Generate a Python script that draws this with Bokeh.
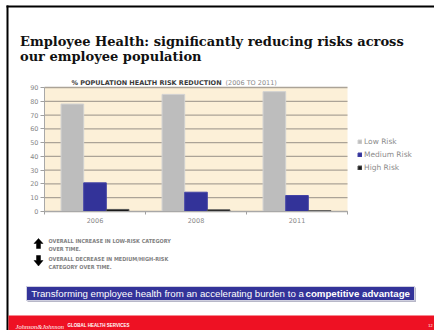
from bokeh.plotting import figure
from bokeh.models import (Range1d, FixedTicker, Label, Legend, LegendItem, ColumnDataSource)
from bokeh.transform import dodge
from bokeh.embed import file_html
from bokeh.resources import INLINE

# ---- data ----
years = ["2006", "2008", "2011"]
low_risk = [78, 85, 87]
medium_risk = [20.8, 14, 11.6]
high_risk = [1.5, 1.2, 0.6]
series_names = ["Low Risk", "Medium Risk", "High Risk"]
y_ticks = [0, 10, 20, 30, 40, 50, 60, 70, 80, 90]

title_lines = ["Employee Health: significantly reducing risks across",
               "our employee population"]
chart_title_bold = "% POPULATION HEALTH RISK REDUCTION"
chart_title_rest = "(2006 TO 2011)"
notes = ["OVERALL INCREASE IN LOW-RISK CATEGORY", "OVER TIME.",
         "OVERALL DECREASE IN MEDIUM/HIGH-RISK", "CATEGORY OVER TIME."]
banner_normal = "Transforming employee health from an accelerating burden  to a"
banner_bold = "competitive advantage"
footer_logo = "Johnson&Johnson"
footer_text = "GLOBAL HEALTH SERVICES"
page_no = "12"

NARROW = "'Liberation Sans Narrow', 'DejaVu Sans Condensed', sans-serif"

# ---- page geometry (pixels) ----
W, H = 434, 330
PX0, PX1, PY0, PY1 = 44, 347, 87, 211      # plot area on the page
XU = (PX1 - PX0) / len(years)
YU = (PY1 - PY0) / float(y_ticks[-1])


def dx(px):
    return (px - PX0) / XU


def dy(py):
    return (PY1 - py) / YU


p = figure(width=W, height=H, x_range=Range1d(dx(0), dx(W)), y_range=Range1d(dy(H), dy(0)),
           output_backend="svg", toolbar_location=None, min_border=0)
p.background_fill_color = "white"
p.border_fill_color = "white"
p.outline_line_color = None
p.xgrid.visible = False
p.ygrid.visible = False

# plot area background + gridlines
p.quad(left=[0], right=[len(years)], bottom=[0], top=[y_ticks[-1]],
       fill_color="#FCF0D8", line_color=None)
p.segment(x0=[0] * len(y_ticks), x1=[len(years)] * len(y_ticks), y0=y_ticks, y1=y_ticks,
          line_color="#ABA397", line_width=1.3)

# bars
src = ColumnDataSource(dict(pos=[i + 0.5 for i in range(len(years))],
                            low=low_risk, med=medium_risk, high=high_risk))
bw = 0.224
r_low = p.vbar(x=dodge("pos", -bw, range=p.x_range), top="low", width=bw, source=src,
               fill_color="#BDBDBD", line_color="#D2D2D2", line_width=1)
r_med = p.vbar(x="pos", top="med", width=bw, source=src,
               fill_color="#333399", line_color="#4444A6", line_width=1)
r_high = p.vbar(x=dodge("pos", bw, range=p.x_range), top="high", width=bw, source=src,
                fill_color="#1A1A1A", line_color="#555555", line_width=1)

# axes (the figure's own, pinned to the plot area)
xa = p.xaxis[0]
xa.fixed_location = 0
xa.bounds = (0, len(years))
xa.ticker = FixedTicker(ticks=[i + 0.5 for i in range(len(years))],
                        minor_ticks=list(range(len(years) + 1)))
xa.major_label_overrides = {i + 0.5: y for i, y in enumerate(years)}
xa.major_tick_line_color = None
xa.major_tick_in = 0
xa.major_tick_out = 2
xa.minor_tick_in = 0
xa.minor_tick_out = 3
xa.minor_tick_line_color = "#A0A0A0"
xa.axis_line_color = "#A8A8A8"
xa.major_label_text_font = "DejaVu Sans"
xa.major_label_text_font_size = "6.5px"
xa.major_label_text_color = "#888888"
xa.major_label_standoff = 3

ya = p.yaxis[0]
ya.fixed_location = 0
ya.bounds = (0, y_ticks[-1])
ya.ticker = FixedTicker(ticks=y_ticks, minor_ticks=[])
ya.major_tick_in = 0
ya.major_tick_out = 4
ya.major_tick_line_color = "#A0A0A0"
ya.axis_line_color = "#A8A8A8"
ya.major_label_text_font = "DejaVu Sans"
ya.major_label_text_font_size = "6.5px"
ya.major_label_text_color = "#888888"
ya.major_label_standoff = 2

legend = Legend(items=[LegendItem(label=series_names[0], renderers=[r_low]),
                       LegendItem(label=series_names[1], renderers=[r_med]),
                       LegendItem(label=series_names[2], renderers=[r_high])],
                location=(357, H - 172.2),
                glyph_width=5, glyph_height=5, label_height=8, label_standoff=2,
                spacing=4, padding=0, margin=0, border_line_color=None,
                background_fill_alpha=0, label_text_font="DejaVu Sans",
                label_text_font_size="7.5px", label_text_color="#8C8C8C")
p.add_layout(legend)


def lab(text, px, py, size, color, font="DejaVu Sans", style="normal",
        align="left", baseline="alphabetic"):
    p.add_layout(Label(x=dx(px), y=dy(py), text=text, text_font=font,
                       text_font_size=f"{size}px", text_color=color,
                       text_font_style=style, text_align=align,
                       text_baseline=baseline))


def rect(x0, y0, x1, y1, fill, line=None, lw=1):
    p.quad(left=[dx(x0)], right=[dx(x1)], top=[dy(y0)], bottom=[dy(y1)],
           fill_color=fill, line_color=line, line_width=lw)


# slide frame
rect(6, 5, W, 7, "black")
rect(6, 5, 8, H, "black")

# titles
lab(title_lines[0], 19.5, 40.7, 13, "#111111", font="DejaVu Serif", style="bold")
lab(title_lines[1], 19.5, 56.2, 13, "#111111", font="DejaVu Serif", style="bold")
lab(chart_title_bold, 71, 82, 6.5, "#3A3A3A", style="bold")
lab(chart_title_rest, 225, 82, 6.5, "#8A8A8A")

# arrows
up_x = [33.5, 38, 42.5, 40, 40, 36, 36]
up_y = [243, 238, 243, 243, 248, 248, 243]
dn_y = [260, 265.5, 260, 260, 255, 255, 260]
p.patches(xs=[[dx(v) for v in up_x]] * 2,
          ys=[[dy(v) for v in up_y], [dy(v) for v in dn_y]],
          fill_color="black", line_color="black", line_width=0.5)

for t, yy in zip(notes, [240.7, 248.7, 258, 266]):
    lab(t, 48, yy, 5.5, "#7F7F7F", font=NARROW, style="bold", baseline="middle")

# banner
rect(27, 287, 415.5, 301.5, "#B8B8C8")
rect(26, 286, 414, 300, "#333399", line="#D0D0E0", lw=1)
lab(banner_normal, 30.7, 293.3, 9.7, "white", font="Liberation Sans", baseline="middle")
lab(banner_bold, 305, 293.3, 9.7, "white", font="Liberation Sans", style="bold",
    baseline="middle")

# footer band
rect(8, 315, W, H, "#EE1123")
lab(footer_logo, 15, 325.5, 6.5, "white", font="Liberation Serif", style="italic")
lab(footer_text, 67, 325, 4.5, "white", font="Liberation Sans", style="bold")
lab(page_no, 432, 325, 3.8, "white", font="Liberation Sans", align="right")

open("out.html", "w").write(file_html(p, INLINE))
